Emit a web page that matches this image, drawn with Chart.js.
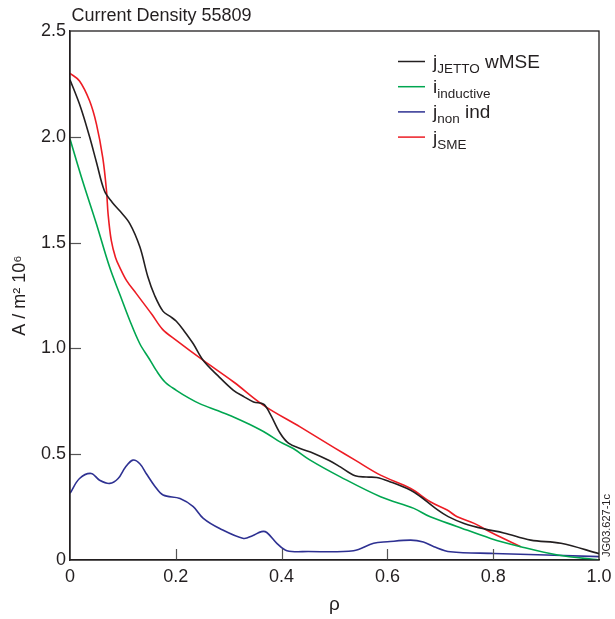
<!DOCTYPE html>
<html><head><meta charset="utf-8">
<script src="https://cdn.jsdelivr.net/npm/chart.js@4/dist/chart.umd.min.js"></script>
<style>html,body{margin:0;padding:0;background:#fff}#wrap{position:relative;width:615px;height:619px}</style>
</head><body><div id="wrap"><canvas id="c" width="615" height="619"></canvas></div>
<script>
const chartTitle = 'Current Density 55809';
const xTitle = 'ρ';
const yTitle = 'A / m² 10⁶';
const figureId = 'JG03.627-1c';
const xTicks = [0, 0.2, 0.4, 0.6, 0.8, 1.0];
const yTicks = [0, 0.5, 1.0, 1.5, 2.0, 2.5];

const legendMain = ['j', 'i', 'j', 'j'];
const legendSub = ['JETTO', 'inductive', 'non', 'SME'];
const legendTail = [' wMSE', '', ' ind', ''];
const seriesColors = ['#231f20', '#00a650', '#2e3192', '#ed1c24'];

const rhoJetto = [0, 0.02, 0.037, 0.05, 0.065, 0.08, 0.094, 0.113, 0.132, 0.147, 0.16, 0.176, 0.19, 0.201, 0.215, 0.233, 0.252, 0.28, 0.309, 0.33, 0.347, 0.366, 0.378, 0.397, 0.413, 0.435, 0.46, 0.49, 0.511, 0.539, 0.56, 0.58, 0.606, 0.644, 0.663, 0.691, 0.715, 0.745, 0.783, 0.82, 0.871, 0.928, 1.0];
const jJetto = [2.27, 2.14, 2.00, 1.88, 1.745, 1.69, 1.65, 1.59, 1.48, 1.34, 1.25, 1.175, 1.15, 1.128, 1.085, 1.022, 0.943, 0.87, 0.802, 0.77, 0.747, 0.736, 0.692, 0.60, 0.552, 0.527, 0.505, 0.47, 0.44, 0.398, 0.392, 0.390, 0.369, 0.330, 0.299, 0.244, 0.205, 0.173, 0.147, 0.128, 0.094, 0.079, 0.03];

const rhoInductive = [0, 0.024, 0.05, 0.075, 0.095, 0.113, 0.132, 0.15, 0.163, 0.18, 0.201, 0.225, 0.245, 0.28, 0.309, 0.34, 0.372, 0.397, 0.422, 0.454, 0.511, 0.587, 0.65, 0.681, 0.73, 0.795, 0.852, 0.922, 1.0];
const iInductive = [1.99, 1.79, 1.588, 1.383, 1.25, 1.132, 1.022, 0.95, 0.896, 0.84, 0.802, 0.765, 0.739, 0.705, 0.676, 0.64, 0.598, 0.558, 0.527, 0.472, 0.393, 0.299, 0.244, 0.204, 0.16, 0.102, 0.063, 0.024, 0.0];

const rhoNonInd = [0, 0.018, 0.04, 0.056, 0.075, 0.091, 0.105, 0.119, 0.132, 0.144, 0.16, 0.176, 0.208, 0.233, 0.252, 0.283, 0.328, 0.345, 0.362, 0.372, 0.391, 0.41, 0.45, 0.536, 0.574, 0.6, 0.644, 0.668, 0.688, 0.719, 0.801, 1.0];
const jNonInd = [0.315, 0.385, 0.409, 0.377, 0.362, 0.385, 0.44, 0.472, 0.455, 0.409, 0.35, 0.307, 0.291, 0.252, 0.197, 0.149, 0.102, 0.115, 0.134, 0.13, 0.079, 0.044, 0.04, 0.044, 0.079, 0.086, 0.094, 0.085, 0.063, 0.039, 0.031, 0.016];

const rhoSme = [0, 0.018, 0.037, 0.05, 0.062, 0.069, 0.072, 0.078, 0.086, 0.094, 0.107, 0.125, 0.155, 0.175, 0.201, 0.252, 0.31, 0.366, 0.435, 0.5, 0.539, 0.587, 0.644, 0.681, 0.713, 0.732, 0.764, 0.80, 0.852];
const jSme = [2.30, 2.264, 2.17, 2.06, 1.90, 1.745, 1.635, 1.51, 1.43, 1.383, 1.32, 1.26, 1.16, 1.09, 1.038, 0.943, 0.84, 0.731, 0.629, 0.53, 0.472, 0.401, 0.338, 0.275, 0.236, 0.204, 0.173, 0.125, 0.063];

const FONT = '"Liberation Sans", Arial, Helvetica, sans-serif';
const pts = (xs, ys) => xs.map((x, i) => ({x: x, y: ys[i]}));
const seriesData = [pts(rhoJetto, jJetto), pts(rhoInductive, iInductive), pts(rhoNonInd, jNonInd), pts(rhoSme, jSme)];
const fmt = v => (v === 0 ? '0' : Number(v).toFixed(1));

const decor = {
  id: 'decor',
  afterDraw(chart) {
    const ctx = chart.ctx, a = chart.chartArea;
    const xs = chart.scales.x, ys = chart.scales.y;
    ctx.save();
    ctx.strokeStyle = '#555'; ctx.lineWidth = 1.2;
    yTicks.forEach(v => {
      if (v === yTicks[0] || v === yTicks[yTicks.length - 1]) return;
      const y = Math.round(ys.getPixelForValue(v)) + 0.5;
      ctx.beginPath(); ctx.moveTo(a.left, y); ctx.lineTo(a.left + 11, y); ctx.stroke();
    });
    xTicks.forEach(v => {
      if (v === xTicks[0] || v === xTicks[xTicks.length - 1]) return;
      const x = Math.round(xs.getPixelForValue(v)) + 0.5;
      ctx.beginPath(); ctx.moveTo(x, a.bottom); ctx.lineTo(x, a.bottom - 11); ctx.stroke();
    });
    ctx.strokeStyle = '#231f20'; ctx.lineWidth = 1.3;
    ctx.strokeRect(a.left, a.top, a.right - a.left, a.bottom - a.top);
    ctx.fillStyle = '#231f20';
    ctx.font = '18px ' + FONT;
    ctx.textAlign = 'left'; ctx.textBaseline = 'alphabetic';
    ctx.fillText(chartTitle, a.left + 1.5, 21);
    const lx0 = 398, lx1 = 425, tx = 433;
    for (let i = 0; i < legendMain.length; i++) {
      const ly = 61.5 + i * 25.2;
      ctx.strokeStyle = seriesColors[i]; ctx.lineWidth = 1.5;
      ctx.beginPath(); ctx.moveTo(lx0, ly); ctx.lineTo(lx1, ly); ctx.stroke();
      const base = ly + 6.5;
      let x = tx;
      ctx.fillStyle = '#231f20';
      ctx.font = '19px ' + FONT;
      ctx.fillText(legendMain[i], x, base); x += ctx.measureText(legendMain[i]).width;
      ctx.font = '13.5px ' + FONT;
      ctx.fillText(legendSub[i], x, base + 5); x += ctx.measureText(legendSub[i]).width;
      if (legendTail[i]) {
        ctx.font = '19px ' + FONT;
        ctx.fillText(legendTail[i], x, base);
      }
    }
    ctx.save();
    ctx.translate(607, 557);
    ctx.rotate(-Math.PI / 2);
    ctx.font = '11px ' + FONT;
    ctx.textAlign = 'left'; ctx.textBaseline = 'middle';
    ctx.fillStyle = '#231f20';
    ctx.fillText(figureId, 0, 0);
    ctx.restore();
    ctx.restore();
  }
};

new Chart(document.getElementById('c'), {
  type: 'line',
  data: {
    datasets: seriesData.map((d, i) => ({
      label: legendMain[i] + legendSub[i] + legendTail[i],
      data: d,
      borderColor: seriesColors[i],
      backgroundColor: seriesColors[i],
      borderWidth: 1.6,
      pointRadius: 0,
      fill: false,
      tension: 0.35
    }))
  },
  options: {
    responsive: false,
    animation: false,
    devicePixelRatio: 1,
    layout: {padding: {top: 31, right: 16, left: 0, bottom: 0}},
    plugins: {legend: {display: false}, title: {display: false}, tooltip: {enabled: false}},
    scales: {
      x: {
        type: 'linear', min: 0, max: 1,
        afterBuildTicks: s => { s.ticks = xTicks.map(v => ({value: v})); },
        afterFit: s => { s.height = 59; s.paddingLeft = 0; s.paddingRight = 0; },
        grid: {display: false, drawTicks: false},
        border: {display: true, color: '#231f20', width: 1.3},
        ticks: {padding: 6, color: '#231f20', font: {family: FONT, size: 18}, callback: v => fmt(v), maxRotation: 0, autoSkip: false},
        title: {display: true, text: xTitle, color: '#231f20', font: {family: FONT, size: 19}, padding: {top: 0, bottom: 3}}
      },
      y: {
        type: 'linear', min: 0, max: 2.5,
        afterBuildTicks: s => { s.ticks = yTicks.map(v => ({value: v})); },
        afterFit: s => { s.width = 70; s.paddingTop = 0; s.paddingBottom = 0; },
        grid: {display: false, drawTicks: false},
        border: {display: true, color: '#231f20', width: 1.3},
        ticks: {padding: 4, color: '#231f20', font: {family: FONT, size: 18}, callback: v => fmt(v), autoSkip: false},
        title: {display: true, text: yTitle, color: '#231f20', font: {family: FONT, size: 18}, padding: {top: 9, bottom: 0}}
      }
    }
  },
  plugins: [decor]
});
</script></body></html>
